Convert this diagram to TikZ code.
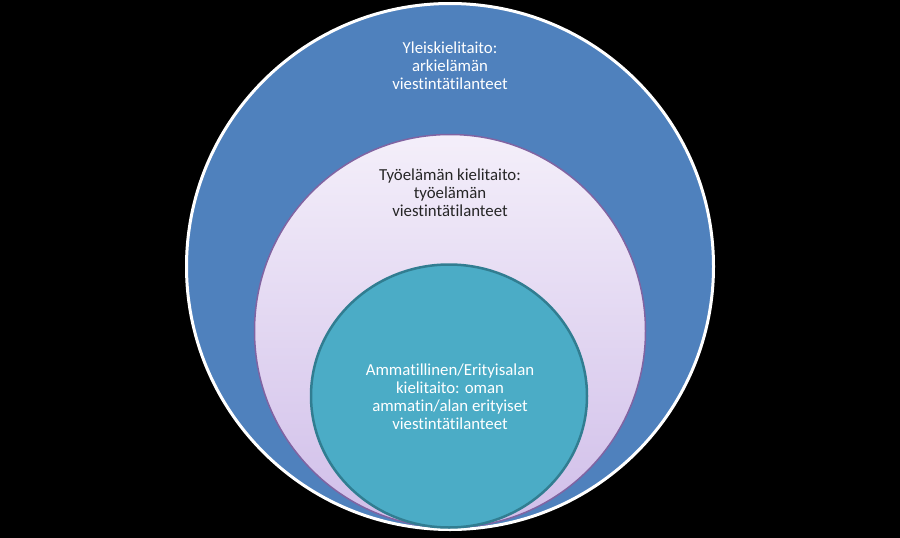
\documentclass[tikz,border=0pt]{standalone}
\usepackage{fontspec}
\setmainfont{Carlito}[Ligatures=NoCommon]
\usetikzlibrary{shapes.geometric}
\begin{document}
\begin{tikzpicture}[x=1pt,y=-1pt]
\definecolor{kieli_blue}{RGB}{79,129,189}
\definecolor{kieli_lilatop}{RGB}{244,239,250}
\definecolor{kieli_lilabot}{RGB}{208,190,233}
\definecolor{kieli_lilaline}{RGB}{128,100,162}
\definecolor{kieli_teal}{RGB}{75,172,198}
\definecolor{kieli_tealline}{RGB}{49,125,145}
\tikzset{ring/.style={shape=ellipse,inner sep=0pt}}
\tikzset{ringtext/.style={align=center,font=\fontsize{16.8}{18}\selectfont}}

\fill[black] (0,0) rectangle (900,538);

\node[ring,draw=white,line width=3pt,fill=kieli_blue,minimum width=527pt,minimum height=526pt] (yleis) at (450,266.5) {};
\node[ring,draw=kieli_lilaline,line width=1.5pt,top color=kieli_lilatop,bottom color=kieli_lilabot,minimum width=391pt,minimum height=393pt] (tyo) at (450,331) {};
\node[ring,draw=kieli_tealline,line width=2.5pt,fill=kieli_teal,minimum width=276pt,minimum height=263pt] (ammatti) at (449,396) {};

\node[ringtext,text=white] (yleistxt) at (450,66) {Yleiskielitaito:\\arkielämän\\viestintätilanteet};
\node[ringtext,text=black!85] (tyotxt) at (450,193) {Työelämän kielitaito:\\työelämän\\viestintätilanteet};
\node[ringtext,text=white] (ammattitxt) at (450,396.5) {Ammatillinen/Erityisalan\\kielitaito: oman\\ammatin/alan erityiset\\viestintätilanteet};
\end{tikzpicture}
\end{document}
